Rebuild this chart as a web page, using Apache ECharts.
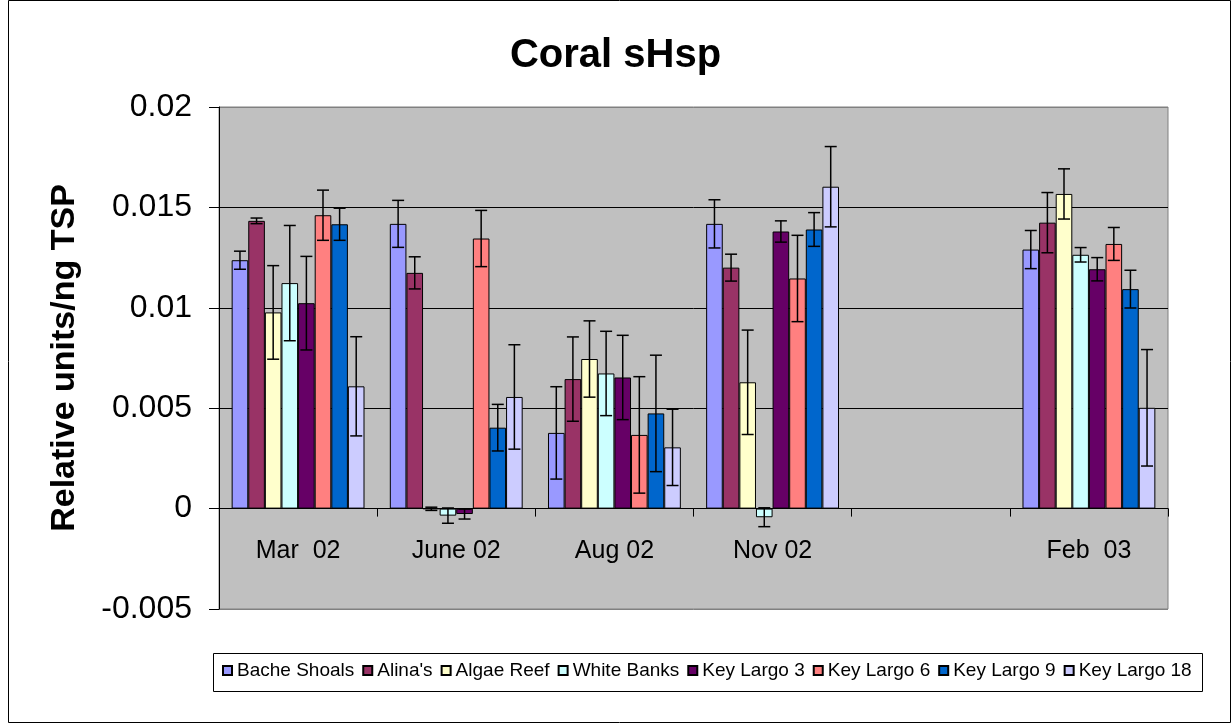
<!DOCTYPE html>
<html>
<head>
<meta charset="utf-8">
<script src="https://cdn.jsdelivr.net/npm/echarts@6/dist/echarts.min.js"></script>
<style>
html,body{margin:0;padding:0;background:#fff;}
#chart{width:1231px;height:723px;}
</style>
</head>
<body>
<div id="chart"></div>
<script>
// ---- data ----
const categories = ['Mar  02', 'June 02', 'Aug 02', 'Nov 02', '', 'Feb  03'];
const seriesNames = ['Bache Shoals', "Alina's", 'Algae Reef', 'White Banks', 'Key Largo 3', 'Key Largo 6', 'Key Largo 9', 'Key Largo 18'];
const yTicks = [-0.005, 0, 0.005, 0.01, 0.015, 0.02];

const bacheShoals    = [0.01237, 0.01418, 0.00377, 0.01418, null, 0.0129];
const bacheShoalsErr = [0.00045, 0.00117, 0.0023, 0.0012, null, 0.00095];
const alinas         = [0.01433, 0.01174, 0.00645, 0.012, null, 0.01424];
const alinasErr      = [0.00014, 0.0008, 0.0021, 0.00067, null, 0.0015];
const algaeReef      = [0.00977, -0.00001, 0.00745, 0.00629, null, 0.01567];
const algaeReefErr   = [0.00233, 0.00008, 0.0019, 0.0026, null, 0.00125];
const whiteBanks     = [0.01123, -0.00035, 0.00673, -0.00043, null, 0.01264];
const whiteBanksErr  = [0.00287, 0.00038, 0.0021, 0.00047, null, 0.00036];
const keyLargo3      = [0.01023, -0.00027, 0.00653, 0.0138, null, 0.01192];
const keyLargo3Err   = [0.00233, 0.00025, 0.0021, 0.00053, null, 0.00058];
const keyLargo6      = [0.01461, 0.01345, 0.00367, 0.01146, null, 0.01318];
const keyLargo6Err   = [0.00125, 0.0014, 0.0029, 0.00215, null, 0.00082];
const keyLargo9      = [0.01416, 0.00403, 0.00474, 0.0139, null, 0.01093];
const keyLargo9Err   = [0.0008, 0.00116, 0.0029, 0.00084, null, 0.00094];
const keyLargo18     = [0.00609, 0.00556, 0.00305, 0.01603, null, 0.00502];
const keyLargo18Err  = [0.00247, 0.0026, 0.0019, 0.002, null, 0.0029];

const colors = ['#9999FF', '#993366', '#FFFFCC', '#CCFFFF', '#660066', '#FF8080', '#0066CC', '#CCCCFF'];

const allValues = [bacheShoals, alinas, algaeReef, whiteBanks, keyLargo3, keyLargo6, keyLargo9, keyLargo18];
const allErrs = [bacheShoalsErr, alinasErr, algaeReefErr, whiteBanksErr, keyLargo3Err, keyLargo6Err, keyLargo9Err, keyLargo18Err];

const CAT_GAP = 0.16;
const FONT = '"Liberation Sans", Arial, sans-serif';

const chart = echarts.init(document.getElementById('chart'), null, {renderer: 'canvas'});

const series = [];
seriesNames.forEach((name, i) => {
  series.push({
    name: name,
    type: 'bar',
    data: allValues[i],
    barGap: '0%',
    barCategoryGap: (CAT_GAP * 100) + '%',
    itemStyle: {color: colors[i], borderColor: '#000', borderWidth: 1},
    z: 2
  });
});

const errData = [];
allValues.forEach((vals, s) => {
  vals.forEach((v, c) => {
    if (v !== null) errData.push([c, v, allErrs[s][c], s]);
  });
});

series.push({
  name: 'errors',
  type: 'custom',
  z: 5,
  silent: true,
  data: errData,
  encode: {x: 0, y: 1},
  renderItem: function (params, api) {
    const c = api.value(0), v = api.value(1), e = api.value(2), s = api.value(3);
    const band = api.size([1, 0])[0];
    const groupW = band * (1 - CAT_GAP);
    const barW = groupW / seriesNames.length;
    const base = api.coord([c, v]);
    const x = base[0] - groupW / 2 + (s + 0.5) * barW;
    const yTop = api.coord([c, v + e])[1];
    const yBot = api.coord([c, v - e])[1];
    const cap = 6;
    const style = {stroke: '#000', lineWidth: 1.5};
    return {
      type: 'group',
      children: [
        {type: 'line', shape: {x1: x, y1: yTop, x2: x, y2: yBot}, style: style},
        {type: 'line', shape: {x1: x - cap, y1: yTop, x2: x + cap, y2: yTop}, style: style},
        {type: 'line', shape: {x1: x - cap, y1: yBot, x2: x + cap, y2: yBot}, style: style}
      ]
    };
  }
});

const option = {
  animation: false,
  textStyle: {fontFamily: FONT},
  title: {
    text: 'Coral sHsp',
    left: 'center',
    top: 36,
    padding: 0,
    textStyle: {fontFamily: FONT, fontSize: 40, fontWeight: 'bold', color: '#000'}
  },
  legend: {
    data: seriesNames,
    left: 222,
    top: 661,
    padding: 0,
    itemWidth: 9,
    itemHeight: 9,
    itemGap: 8,
    icon: 'rect',
    textStyle: {fontFamily: FONT, fontSize: 19, color: '#000'}
  },
  graphic: [
    {type: 'rect', left: 6, top: -2, shape: {width: 1222, height: 722}, style: {fill: 'none', stroke: '#000', lineWidth: 1}, z: -10},
    {type: 'rect', left: 213, top: 653, shape: {width: 989, height: 38}, style: {fill: '#fff', stroke: '#000', lineWidth: 1}, z: -5}
  ],
  grid: {
    left: 219, top: 107, right: 63, bottom: 114,
    show: true, backgroundColor: '#C0C0C0', borderColor: '#808080', borderWidth: 1
  },
  xAxis: {
    type: 'category',
    data: categories,
    axisLine: {onZero: true, lineStyle: {color: '#000', width: 1}},
    axisTick: {show: true, length: 8, interval: 0, lineStyle: {color: '#000'}},
    axisLabel: {interval: 0, margin: -70, fontFamily: FONT, fontSize: 25, color: '#000'},
    splitLine: {show: false}
  },
  yAxis: {
    type: 'value',
    min: yTicks[0],
    max: yTicks[yTicks.length - 1],
    interval: yTicks[1] - yTicks[0],
    name: 'Relative units/ng TSP',
    nameLocation: 'middle',
    nameGap: 137,
    nameTextStyle: {fontFamily: FONT, fontSize: 34, fontWeight: 'bold', color: '#000'},
    axisLine: {show: true, lineStyle: {color: '#000', width: 1}},
    axisTick: {show: true, length: 10, lineStyle: {color: '#000'}},
    axisLabel: {
      margin: 27, fontFamily: FONT, fontSize: 32, color: '#000',
      formatter: function (v) { return String(parseFloat(v.toFixed(4))); }
    },
    splitLine: {show: true, lineStyle: {color: ['#808080', '#000', '#000', '#000', '#000', '#808080'], width: 1}}
  },
  series: series
};

chart.setOption(option);
</script>
</body>
</html>
